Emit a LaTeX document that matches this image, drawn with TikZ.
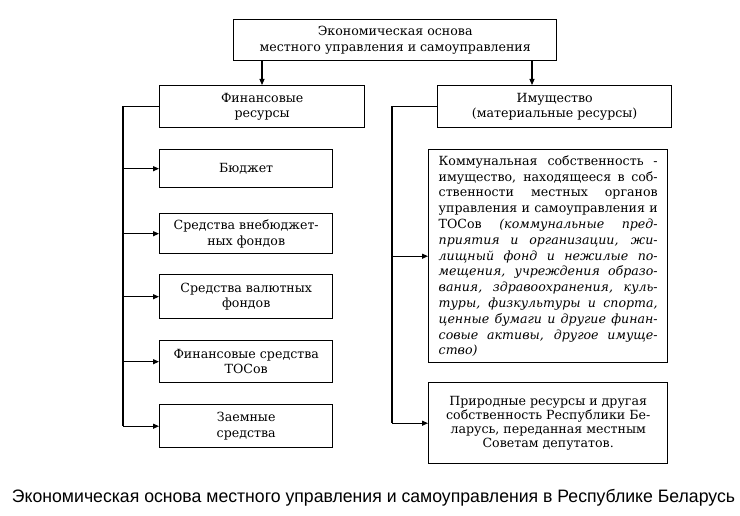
\documentclass[tikz,border=0pt]{standalone}
\usepackage{graphicx}
\usepackage{fontspec}
\setmainfont{DejaVu Serif}
\newfontfamily\capfont{Liberation Sans}
\usetikzlibrary{arrows.meta}
\begin{document}
\begin{tikzpicture}[x=1bp,y=-1bp,
  box/.style={draw, line width=1.4bp, inner sep=0pt, anchor=north west, align=center,
    font=\fontsize{12.6bp}{15.5bp}\selectfont},
  conn/.style={line width=1.1bp},
  arr/.style={conn, -{Triangle[length=6bp,width=5bp]}}]
\useasboundingbox (0,0) rectangle (740,516);
% top
\node[box, minimum width=323bp, minimum height=41bp] (top) at (233,19)
  {Экономическая основа\\местного управления и самоуправления};
% left column
\node[box, minimum width=205bp, minimum height=42bp] (fin) at (159,85)
  {Финансовые\\ресурсы};
\node[box, minimum width=173bp, minimum height=38bp] (b1) at (159,149) {Бюджет};
\node[box, minimum width=173bp, minimum height=40bp] (b2) at (159,213)
  {Средства внебюджет-\\ных фондов};
\node[box, minimum width=173bp, minimum height=44bp] (b3) at (159,274)
  {Средства валютных\\фондов};
\node[box, minimum width=173bp, minimum height=42bp] (b4) at (159,340)
  {Финансовые средства\\ТОСов};
\node[box, minimum width=173bp, minimum height=43bp] (b5) at (159,404)
  {Заемные\\средства};
% right column
\node[box, minimum width=234bp, minimum height=42bp] (prop) at (437,85)
  {Имущество\\(материальные ресурсы)};
\node[box, minimum width=239bp, minimum height=213bp, align=left,
  font=\fontsize{12.6bp}{15.8bp}\selectfont] (comm) at (428,149)
  {\makebox[219bp][s]{Коммунальная собственность -}\\
   \makebox[219bp][s]{имущество, находящееся в соб-}\\
   \makebox[219bp][s]{ственности местных органов}\\
   \makebox[219bp][s]{управления и самоуправления и}\\
   \makebox[219bp][s]{ТОСов \itshape (коммунальные пред-}\\
   \makebox[219bp][s]{\itshape приятия и организации, жи-}\\
   \makebox[219bp][s]{\itshape лищный фонд и нежилые по-}\\
   \makebox[219bp][s]{\itshape мещения, учреждения образо-}\\
   \makebox[219bp][s]{\itshape вания, здравоохранения, куль-}\\
   \makebox[219bp][s]{\itshape туры, физкультуры и спорта,}\\
   \makebox[219bp][s]{\itshape ценные бумаги и другие финан-}\\
   \makebox[219bp][s]{\itshape совые активы, другое имуще-}\\
   \makebox[219bp][l]{\itshape ство)}};
\node[box, minimum width=239bp, minimum height=81bp,
  font=\fontsize{12.6bp}{14bp}\selectfont] (nat) at (428,382)
  {Природные ресурсы и другая\\собственность Республики Бе-\\ларусь, переданная местным\\Советам депутатов.};
% bus coordinates
\coordinate (lbus) at (123,0);
\coordinate (rbus) at (392,0);
% connectors top
\draw[arr] ([xshift=29bp]top.south west) -- ([xshift=29bp]top.south west |- fin.north);
\draw[arr] ([xshift=299bp]top.south west) -- ([xshift=299bp]top.south west |- prop.north);
% left bus
\draw[conn] (fin.west) -- (fin.west -| lbus) -- (b5.west -| lbus);
\foreach \b in {b1,b2,b3,b4,b5} \draw[arr] (\b.west -| lbus) -- (\b.west);
% right bus
\draw[conn] (prop.west) -- (prop.west -| rbus) -- (nat.west -| rbus);
\foreach \b in {comm,nat} \draw[arr] (\b.west -| rbus) -- (\b.west);
% caption
\node[anchor=base, inner sep=0pt, font=\capfont\fontsize{18bp}{20bp}\selectfont] (cap) at (373.5,502)
  {\resizebox{723bp}{\height}{Экономическая основа местного управления и самоуправления в Республике Беларусь}};
\end{tikzpicture}
\end{document}
